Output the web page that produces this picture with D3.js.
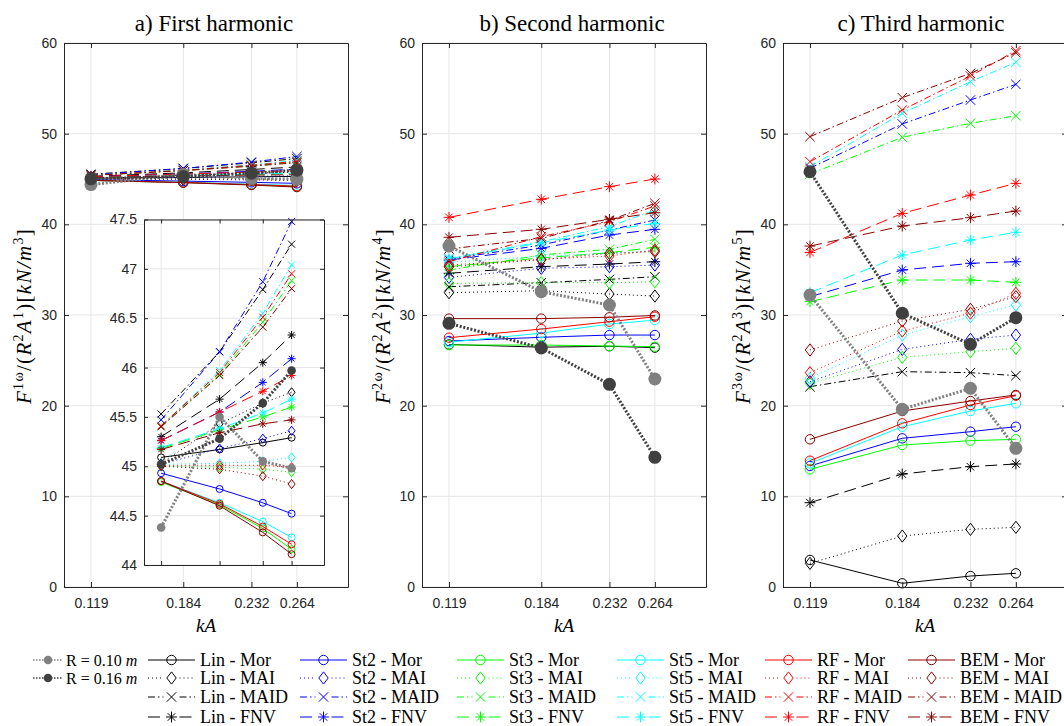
<!DOCTYPE html>
<html>
<head>
<meta charset="utf-8">
<script src="https://cdn.jsdelivr.net/npm/d3@7"></script>
<style>
  body { margin: 0; background: #fff; }
  svg { display: block; }
</style>
</head>
<body>
<script>
// ---- data -------------------------------------------------------------
const kA = [0.119, 0.184, 0.232, 0.264];
const kATickLabels = ["0.119", "0.184", "0.232", "0.264"];
const yTicks = [0, 10, 20, 30, 40, 50, 60];
const insetTicks = [44, 44.5, 45, 45.5, 46, 46.5, 47, 47.5];
const models = ["Lin", "St2", "St3", "St5", "RF", "BEM"];
const methods = ["Mor", "MAI", "MAID", "FNV"];
const modelColors = ["#000000", "#0000ff", "#00ff00", "#00ffff", "#ff0000", "#8b0000"];
const radiusLabels = ["0.10", "0.16"];
const radiusColors = ["#808080", "#404040"];
const titles = ["a) First harmonic", "b) Second harmonic", "c) Third harmonic"];

// rows: Mor, MAI, MAID, FNV  (one value per kA)
const firstLin = [[45.09, 45.17, 45.24, 45.29], [45.03, 45.43, 45.64, 45.75], [45.53, 46.16, 46.79, 47.25], [45.30, 45.68, 46.05, 46.33]];
const firstSt2 = [[44.93, 44.77, 44.63, 44.52], [45.02, 45.18, 45.28, 45.36], [45.47, 46.16, 46.87, 47.48], [45.26, 45.55, 45.85, 46.09]];
const firstSt3 = [[44.84, 44.61, 44.37, 44.16], [45.00, 44.99, 44.97, 44.94], [45.40, 45.93, 46.46, 46.88], [45.18, 45.37, 45.50, 45.60]];
const firstSt5 = [[44.85, 44.63, 44.44, 44.28], [45.02, 45.03, 45.05, 45.09], [45.41, 45.97, 46.55, 47.04], [45.19, 45.38, 45.54, 45.68]];
const firstRF  = [[44.85, 44.62, 44.39, 44.21], [45.01, 45.01, 45.01, 44.99], [45.41, 45.95, 46.51, 46.95], [45.26, 45.55, 45.76, 45.92]];
const firstBEM = [[44.85, 44.60, 44.33, 44.11], [45.00, 44.97, 44.90, 44.82], [45.40, 45.92, 46.41, 46.80], [45.17, 45.34, 45.43, 45.47]];
const firstR010 = [44.38, 45.50, 45.05, 44.98];
const firstR016 = [45.02, 45.28, 45.64, 45.97];

const secondLin = [[26.75, 26.45, 26.55, 26.40], [32.46, 32.68, 32.31, 32.09], [33.12, 33.56, 33.93, 34.22], [34.60, 35.33, 35.62, 35.88]];
const secondSt2 = [[27.13, 27.54, 27.79, 27.79], [34.15, 35.15, 35.33, 35.51], [36.14, 37.72, 39.37, 40.48], [36.06, 37.35, 38.82, 39.45]];
const secondSt3 = [[26.69, 26.69, 26.58, 26.50], [33.49, 33.56, 33.56, 33.67], [34.96, 36.62, 37.25, 38.35], [35.33, 36.30, 36.87, 37.47]];
const secondSt5 = [[27.00, 28.00, 29.00, 29.44], [35.80, 36.50, 36.80, 37.10], [36.26, 38.08, 39.74, 41.58], [36.20, 37.97, 39.37, 40.11]];
const secondRF  = [[27.50, 28.45, 29.26, 29.81], [35.51, 36.14, 36.51, 37.17], [35.88, 38.64, 40.29, 42.02], [40.77, 42.76, 44.15, 45.00]];
const secondBEM = [[29.60, 29.60, 29.75, 29.95], [35.30, 36.10, 36.81, 36.99], [37.28, 38.45, 40.42, 42.32], [38.57, 39.45, 40.55, 41.28]];
const secondR010 = [37.60, 32.57, 31.10, 22.94];
const secondR016 = [29.08, 26.36, 22.35, 14.30];

const thirdLin = [[2.98, 0.41, 1.21, 1.51], [2.61, 5.62, 6.36, 6.58], [22.09, 23.75, 23.64, 23.31], [9.30, 12.46, 13.27, 13.57]];
const thirdSt2 = [[13.35, 16.40, 17.13, 17.68], [22.64, 26.21, 27.32, 27.79], [46.18, 51.07, 53.71, 55.44], [32.02, 34.96, 35.70, 35.88]];
const thirdSt3 = [[12.98, 15.66, 16.14, 16.29], [22.46, 25.33, 25.95, 26.33], [45.55, 49.60, 51.14, 51.98], [31.47, 33.86, 33.86, 33.61]];
const thirdSt5 = [[13.64, 17.68, 19.41, 20.26], [23.02, 27.79, 29.81, 31.10], [46.36, 52.24, 55.73, 57.87], [32.46, 36.62, 38.27, 39.12]];
const thirdRF  = [[13.93, 18.05, 20.07, 21.10], [23.64, 28.23, 30.20, 32.39], [46.91, 52.61, 56.36, 59.15], [36.90, 41.21, 43.23, 44.52]];
const thirdBEM = [[16.29, 19.41, 20.51, 21.18], [26.14, 29.34, 30.63, 32.02], [49.67, 53.97, 56.65, 58.93], [37.60, 39.81, 40.73, 41.47]];
const thirdR010 = [32.20, 19.60, 21.91, 15.29];
const thirdR016 = [45.80, 30.19, 26.77, 29.70];

// ---- styles -----------------------------------------------------------
const methodDash = ["none", "1,3", "7,3,1.5,3", "12,6"];
const methodMarker = ["o", "d", "x", "*"];
const serif = "'Liberation Serif', 'DejaVu Serif', serif";
const sans = "'Liberation Sans', Arial, sans-serif";
const axisColor = "#262626";
const gridColor = "#e6e6e6";

const W = 1064, H = 726;
const svg = d3.select("body").append("svg").attr("width", W).attr("height", H);

function drawMarker(g, type, s, color, filled) {
  if (type === "o") {
    g.append("circle").attr("r", s).attr("fill", filled ? color : "none")
      .attr("stroke", color).attr("stroke-width", 1);
  } else {
    let d;
    if (type === "d") d = `M0,${-s * 1.3}L${s},0L0,${s * 1.3}L${-s},0Z`;
    if (type === "x") d = `M${-s},${-s}L${s},${s}M${-s},${s}L${s},${-s}`;
    if (type === "*") {
      const r = s * 1.15, q = s * 0.8;
      d = `M0,${-r}V${r}M${-r},0H${r}M${-q},${-q}L${q},${q}M${-q},${q}L${q},${-q}`;
    }
    g.append("path").attr("d", d).attr("fill", "none")
      .attr("stroke", color).attr("stroke-width", 1);
  }
}

function drawSeries(g, x, y, sets, radii, ms, rms) {
  const line = d3.line().x((d, i) => x(kA[i])).y(d => y(d));
  sets.forEach((set, mi) => {
    set.forEach((vals, k) => {
      const c = modelColors[mi];
      g.append("path").attr("d", line(vals)).attr("fill", "none")
        .attr("stroke", c).attr("stroke-width", 1)
        .attr("stroke-dasharray", methodDash[k] === "none" ? null : methodDash[k]);
      vals.forEach((v, i) => {
        const mg = g.append("g").attr("transform", `translate(${x(kA[i])},${y(v)})`);
        drawMarker(mg, methodMarker[k], ms, c, false);
      });
    });
  });
  radii.forEach((vals, ri) => {
    const c = radiusColors[ri];
    g.append("path").attr("d", line(vals)).attr("fill", "none")
      .attr("stroke", c).attr("stroke-width", 3).attr("stroke-dasharray", "2,1.7");
    vals.forEach((v, i) => {
      g.append("circle").attr("cx", x(kA[i])).attr("cy", y(v)).attr("r", rms).attr("fill", c);
    });
  });
}

function frame(g, x, y, xr, yr, xTicks, yT) {
  // grid
  g.append("g").selectAll("line").data(xTicks).join("line")
    .attr("x1", d => x(d)).attr("x2", d => x(d)).attr("y1", yr[1]).attr("y2", yr[0])
    .attr("stroke", gridColor).attr("stroke-width", 1);
  g.append("g").selectAll("line").data(yT).join("line")
    .attr("x1", xr[0]).attr("x2", xr[1]).attr("y1", d => y(d)).attr("y2", d => y(d))
    .attr("stroke", gridColor).attr("stroke-width", 1);
}

function axes(g, x, y, xr, yr, yT, yFmt, showX, tickLen) {
  const style = a => {
    a.selectAll("path.domain").attr("stroke", axisColor);
    a.selectAll("line").attr("stroke", axisColor);
    a.selectAll("text").attr("fill", axisColor).style("font-family", sans).style("font-size", "14px");
  };
  g.append("g").attr("transform", `translate(0,${yr[0]})`)
    .call(d3.axisBottom(x).tickValues(kA).tickFormat((d, i) => showX ? kATickLabels[i] : "")
      .tickSizeInner(-tickLen).tickSizeOuter(0).tickPadding(11)).call(style);
  g.append("g").attr("transform", `translate(0,${yr[1]})`)
    .call(d3.axisTop(x).tickValues(kA).tickFormat("").tickSizeInner(-tickLen).tickSizeOuter(0)).call(style);
  g.append("g").attr("transform", `translate(${xr[0]},0)`)
    .call(d3.axisLeft(y).tickValues(yT).tickFormat(yFmt).tickSizeInner(-tickLen).tickSizeOuter(0).tickPadding(7)).call(style);
  g.append("g").attr("transform", `translate(${xr[1]},0)`)
    .call(d3.axisRight(y).tickValues(yT).tickFormat("").tickSizeInner(-tickLen).tickSizeOuter(0)).call(style);
}

const panels = [
  { xr: [64, 348], sets: [firstLin, firstSt2, firstSt3, firstSt5, firstRF, firstBEM], radii: [firstR010, firstR016], n: "1", lx: 31, tx: 214 },
  { xr: [422, 706], sets: [secondLin, secondSt2, secondSt3, secondSt5, secondRF, secondBEM], radii: [secondR010, secondR016], n: "2", lx: 390, tx: 572 },
  { xr: [783, 1067], sets: [thirdLin, thirdSt2, thirdSt3, thirdSt5, thirdRF, thirdBEM], radii: [thirdR010, thirdR016], n: "3", lx: 750, tx: 921 }
];
const yr = [587, 43];

panels.forEach((p, pi) => {
  const g = svg.append("g");
  const x = d3.scaleLinear().domain([0.1, 0.3]).range(p.xr);
  const y = d3.scaleLinear().domain([0, 60]).range(yr);
  frame(g, x, y, p.xr, yr, kA, yTicks);
  drawSeries(g.append("g"), x, y, p.sets, p.radii, 4.7, 6.5);
  axes(g, x, y, p.xr, yr, yTicks, d3.format("d"), true, 5);

  const cx = (p.xr[0] + p.xr[1]) / 2;
  g.append("text").attr("x", p.tx).attr("y", 31).attr("text-anchor", "middle")
    .style("font-family", serif).style("font-size", "23px").attr("fill", "#000").text(titles[pi]);
  g.append("text").attr("x", cx).attr("y", 632).attr("text-anchor", "middle")
    .style("font-family", serif).style("font-size", "19px").style("font-style", "italic")
    .attr("fill", "#000").text("kA");

  // y-axis label with superscripts
  const expM = String(Number(p.n) + 2);
  const t = g.append("text").attr("transform", `translate(${p.lx},316) rotate(-90)`)
    .attr("text-anchor", "middle").style("font-family", serif).style("font-size", "21px")
    .style("letter-spacing", "1.3px").attr("fill", "#000");
  const parts = [
    ["F", true, 0], [p.n + "ω", false, 1], ["/(", false, 0], ["R", true, 0], ["2", false, 1],
    ["A", true, 0], [p.n, false, 1], [")[", false, 0], ["kN/m", true, 0], [expM, false, 1], ["]", false, 0]
  ];
  let up = false;
  parts.forEach(([s, it, sup]) => {
    const ts = t.append("tspan").text(s);
    if (it) ts.style("font-style", "italic");
    if (sup) { ts.attr("dy", -8).style("font-size", "14px"); up = true; }
    else if (up) { ts.attr("dy", 8); up = false; }
  });

  if (pi === 0) {
    // zoomed inset of the first-harmonic values
    const ixr = [144, 324], iyr = [565, 219.5];
    const ig = svg.append("g");
    const ix = d3.scaleLinear().domain([0.1, 0.3]).range(ixr);
    const iy = d3.scaleLinear().domain([44, 47.5]).range(iyr);
    ig.append("rect").attr("x", ixr[0]).attr("y", iyr[1]).attr("width", ixr[1] - ixr[0])
      .attr("height", iyr[0] - iyr[1]).attr("fill", "#fff");
    frame(ig, ix, iy, ixr, iyr, kA, insetTicks);
    drawSeries(ig.append("g"), ix, iy, p.sets, p.radii, 3.5, 4.3);
    axes(ig, ix, iy, ixr, iyr, insetTicks, d => d3.format("")(d), false, 4);
  }
});

// ---- legend -----------------------------------------------------------
const rows = [660, 678, 697, 717];
const lg = svg.append("g");
const legendText = (x, y, txt, size) => lg.append("text").attr("x", x).attr("y", y + 6)
  .style("font-family", serif).style("font-size", (size || 18) + "px").attr("fill", "#000").text(txt);

radiusLabels.forEach((r, i) => {
  const y = rows[i];
  lg.append("line").attr("x1", 33).attr("x2", 62).attr("y1", y).attr("y2", y)
    .attr("stroke", radiusColors[i]).attr("stroke-width", 1.5).attr("stroke-dasharray", "1.5,1.5");
  lg.append("circle").attr("cx", 48).attr("cy", y).attr("r", 4.3).attr("fill", radiusColors[i]);
  const t = legendText(66, y, "R = " + r + " ", 16);
  t.append("tspan").style("font-style", "italic").text("m");
});

const colStart = [148, 300, 457, 617, 765, 908];
models.forEach((m, mi) => {
  const x0 = colStart[mi], x1 = x0 + 47, xm = (x0 + x1) / 2;
  methods.forEach((k, ki) => {
    const y = rows[ki];
    const dash = methodDash[ki] === "none" ? null : methodDash[ki];
    lg.append("line").attr("x1", x0).attr("x2", xm - 8).attr("y1", y).attr("y2", y)
      .attr("stroke", modelColors[mi]).attr("stroke-width", 1).attr("stroke-dasharray", dash);
    lg.append("line").attr("x1", xm + 8).attr("x2", x1).attr("y1", y).attr("y2", y)
      .attr("stroke", modelColors[mi]).attr("stroke-width", 1).attr("stroke-dasharray", dash);
    if (ki === 0) {
      lg.append("line").attr("x1", xm - 8).attr("x2", xm + 8).attr("y1", y).attr("y2", y)
        .attr("stroke", modelColors[mi]).attr("stroke-width", 1);
    }
    drawMarker(lg.append("g").attr("transform", `translate(${xm},${y})`), methodMarker[ki], 4.7, modelColors[mi], false);
    legendText(x1 + 5, y, m + " - " + k);
  });
});
</script>
</body>
</html>
